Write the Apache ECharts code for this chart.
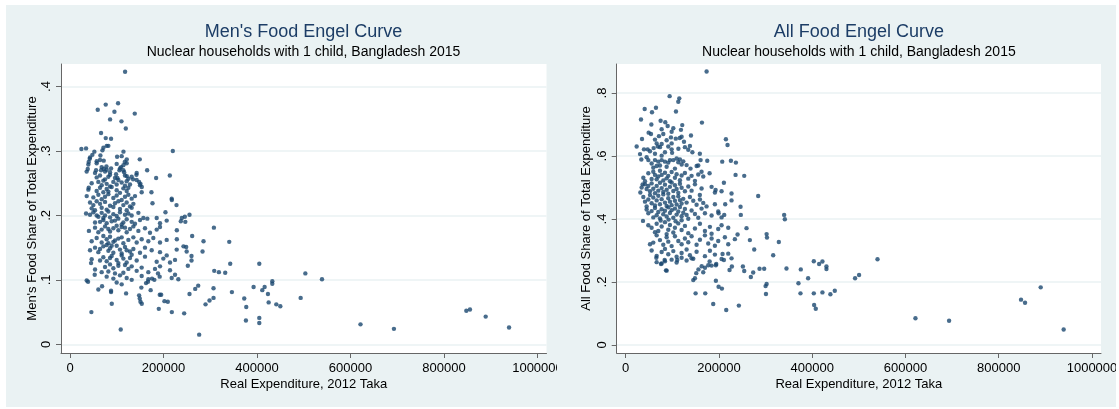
<!DOCTYPE html>
<html><head><meta charset="utf-8">
<script src="https://cdn.jsdelivr.net/npm/echarts@6/dist/echarts.min.js"></script>
<style>
html,body{margin:0;padding:0;background:#fff;width:1119px;height:409px;overflow:hidden}
#bg{position:absolute;left:6px;top:5px;width:1110px;height:402px;background:#eaf2f3}
#w1{position:absolute;left:6px;top:5px;width:551px;height:402px;overflow:hidden}
#w2{position:absolute;left:557px;top:5px;width:559px;height:402px;overflow:hidden}
#c1,#c2{position:absolute;left:0;top:0;width:620px;height:402px}
</style></head>
<body>
<div id="bg"></div>
<div id="w1"><div id="c1"></div></div>
<div id="w2"><div id="c2"></div></div>
<script>
const xTicks = [0, 200000, 400000, 600000, 800000, 1000000];
const menYTicks = [0, 0.1, 0.2, 0.3, 0.4];
const allYTicks = [0, 0.2, 0.4, 0.6, 0.8];
const titles = ["Men's Food Engel Curve", "All Food Engel Curve"];
const subtitle = "Nuclear households with 1 child, Bangladesh 2015";
const xName = "Real Expenditure, 2012 Taka";
const yNames = ["Men's Food Share of Total Expenditure", "All Food Share of Total Expenditure"];

// [real expenditure, men's food share]
const menFoodPoints = [
[117800,.423],[59300,.364],[76400,.372],[102800,.374],[95000,.361],[85700,.349],[110000,.346],[119300,.335],[138500,.358],[66400,.328],[76400,.320],[87800,.319],[78500,.308],[82000,.308],[71400,.305],[24300,.303],[34300,.304],[69300,.301],[114300,.299],[219900,.300],[52100,.299],[47800,.294],[65000,.293],[100700,.291],[42100,.288],[40000,.283],[57100,.284],[72100,.285],[117100,.283],[121400,.287],[149200,.287],[37900,.272],[72100,.272],[77900,.276],[87800,.273],[55700,.270],[66400,.270],[109300,.275],[105700,.270],[115700,.267],[165000,.270],[98500,.264],[101400,.258],[121400,.261],[142100,.263],[134900,.256],[213500,.262],[184200,.258],[147800,.252],[150700,.249],[153500,.244],[40000,.243],[174200,.236],[217800,.224],[227800,.216],[176400,.219],[35700,.230],[34300,.203],[204200,.205],[239200,.196],[245600,.198],[255600,.201],[237000,.191],[307800,.181],[285600,.160],[340600,.159],[283500,.144],[261300,.168],[228500,.177],[228500,.163],[242800,.152],[248500,.151],[259900,.137],[259900,.130],[252000,.122],[308500,.114],[318500,.112],[332000,.111],[342700,.125],[404900,.125],[503400,.110],[539000,.101],[432700,.098],[432700,.094],[411300,.084],[416300,.089],[392700,.089],[346300,.081],[307000,.087],[267800,.086],[274200,.091],[255600,.078],[307000,.072],[298400,.068],[289900,.062],[372700,.071],[377000,.058],[376300,.037],[404900,.041],[404900,.033],[423400,.078],[424900,.065],[441300,.062],[449900,.059],[493400,.072],[276300,.015],[244200,.048],[217800,.050],[189900,.055],[202000,.067],[209200,.066],[192000,.077],[195000,.077],[108500,.023],[45700,.050],[89300,.063],[87800,.081],[87800,.083],[68500,.090],[120000,.079],[147800,.076],[150700,.066],[153500,.063],[149200,.071],[35700,.099],[38600,.097],[45000,.126],[52800,.108],
[152600,.088],[162600,.095],[166800,.097],[172500,.084],[175400,.102],[180400,.100],[188200,.110],[191800,.105],
[621400,.031],[692900,.024],[847800,.052],[855600,.054],[889200,.043],[939200,.026],
[42800,.290],[110500,.292],
[39200,.279],[57000,.281],[64200,.286],[99800,.280],[114100,.278],[121200,.281],
[35600,.268],[53500,.266],[67700,.275],[74900,.268],[78400,.271],[85600,.267],[106900,.273],[114100,.270],[142600,.266],
[57000,.259],[64200,.262],[74900,.256],[82000,.260],[85600,.263],[96200,.258],[103400,.255],[117600,.262],[124800,.257],[131900,.260],[142600,.255],
[46300,.250],[60600,.252],[67700,.247],[71300,.254],[78400,.249],[85600,.245],[92700,.252],[99800,.248],[110500,.251],[117600,.246],[121200,.253],[128300,.248],[149700,.247],
[39200,.240],[57000,.238],[64200,.243],[71300,.236],[78400,.241],[82000,.237],[89100,.244],[99800,.239],[106900,.235],[114100,.242],[121200,.238],[124800,.243],[153300,.236],
[49900,.228],[60600,.232],[67700,.225],[74900,.229],[82000,.233],[92700,.227],[99800,.231],[110500,.224],[117600,.229],[124800,.232],[131900,.226],[139000,.230],[217500,.226],
[42800,.220],[49900,.216],[57000,.222],[64200,.218],[74900,.221],[85600,.215],[96200,.219],[103400,.222],[114100,.216],[121200,.220],[128300,.214],[135500,.218],
[46300,.211],[53500,.208],[67700,.212],[78400,.209],[92700,.213],[106900,.210],[121200,.208],[131900,.212],
[42800,.201],[49900,.205],[57000,.200],[67700,.204],[74900,.200],[82000,.206],[92700,.202],[99800,.199],[106900,.205],[117600,.201],[124800,.203],[131900,.200],[146200,.204],[85600,.197],[71300,.196],[60600,.198],
[64200,.190],[71300,.193],[78400,.188],[96200,.192],[103400,.195],[114100,.189],[121200,.194],[131900,.190],[149700,.193],[156900,.196],[165400,.195],[185400,.196],[192500,.188],[206800,.192],[246700,.190],[53500,.189],[89100,.191],[110500,.186],[139000,.187],
[40400,.176],[53500,.181],[67700,.178],[74900,.183],[85600,.175],[92700,.180],[103400,.177],[110500,.182],[121200,.174],[128300,.179],[135500,.183],[146200,.176],[160400,.180],[171100,.173],[185400,.178],[192500,.182],[60600,.174],[82000,.179],[99800,.184],[117600,.181],
[46300,.160],[57000,.165],[67700,.158],[78400,.163],[85600,.167],[92700,.159],[103400,.164],[114100,.157],[124800,.162],[135500,.166],[142600,.158],[153300,.163],[167500,.160],[178200,.165],[192500,.158],[206800,.162],[71300,.168],[96200,.161],[110500,.166],[82000,.157],
[42800,.146],[53500,.150],[60600,.143],[71300,.152],[82000,.145],[85600,.149],[92700,.142],[99800,.153],[106900,.147],[117600,.151],[128300,.144],[135500,.148],[149700,.142],[160400,.150],[174700,.146],[192500,.143],[228200,.147],[249500,.144],[64200,.148],[78400,.154],[110500,.141],[89100,.153],[121200,.146],
[46300,.132],[71300,.135],[78400,.129],[89100,.137],[99800,.131],[110500,.138],[121200,.127],[128300,.134],[131900,.139],[142600,.130],[160400,.136],[185400,.128],[199600,.133],[206800,.138],[213900,.127],[224600,.131],[85600,.134],[103400,.126],[114100,.133],[64200,.130],
[53500,.116],[74900,.120],[82000,.113],[92700,.118],[103400,.122],[114100,.111],[124800,.117],[131900,.121],[142600,.114],[153300,.119],[167500,.112],[181800,.117],[192500,.121],[213900,.115],[96200,.110],[117600,.123],[85600,.124],[67700,.112],
[78400,.105],[92700,.102],[106900,.107],[121200,.103],[131900,.100],[153300,.106],[167500,.101],[217500,.103],[224600,.108],[231700,.101],[99800,.096],[110500,.093],[60600,.085]
];

// [real expenditure, all food share]
const allFoodPoints = [
[173500,.868],[94200,.790],[114900,.783],[112800,.772],[40700,.749],[64900,.753],[56400,.739],[107800,.741],[32800,.716],[74900,.712],[84900,.707],[163500,.706],[121300,.698],[35000,.654],[23500,.630],[214900,.653],[218400,.635],[39200,.621],[47100,.621],[160600,.587],[174900,.585],[207000,.582],[225600,.585],[236300,.579],[33500,.589],[235600,.540],[254200,.537],[179900,.545],[152100,.568],[210600,.515],[284100,.473],[192800,.492],[31400,.484],[36400,.510],[339800,.413],[341300,.399],[246300,.439],[246900,.413],[227000,.459],[213400,.447],[199200,.418],[211300,.413],[37100,.394],[259100,.371],[239900,.351],[302200,.352],[303000,.341],[266300,.333],[275600,.303],[328400,.327],[316300,.285],[344800,.243],[287000,.242],[297000,.242],[268400,.216],[273400,.230],[251300,.249],[254200,.235],[227000,.275],[227700,.249],[207700,.289],[210600,.270],[222700,.238],[302200,.194],[300000,.187],[300800,.162],[242700,.125],[215600,.111],[187700,.130],[170600,.164],[206300,.179],[199200,.185],[193400,.204],[149900,.164],[144900,.206],[148500,.212],[151300,.228],[166300,.231],[194200,.257],[193400,.253],[370500,.196],[374800,.164],[375500,.240],[391200,.212],[403400,.266],[414800,.257],[421900,.265],[430500,.249],[430500,.241],[403400,.164],[421900,.167],[439000,.161],[448400,.172],[404100,.127],[407600,.115],[491900,.212],[500500,.222],[52100,.320],[65700,.277],[75700,.257],[86400,.237],[83500,.270],[110600,.270],[177000,.253],[184200,.252],
[540000,.272],[621400,.085],[693500,.077],[847800,.144],[856400,.134],[890000,.183],[939200,.049],
[55000,.700],[90000,.695],
[49200,.674],[54200,.670],[71300,.663],[77100,.685],[80600,.670],[98500,.677],[102100,.688],[97000,.659],[118500,.683],[119900,.661],[140000,.665],
[62800,.652],[66400,.640],[73500,.628],[69000,.630],[77100,.638],[87800,.650],[91300,.630],[98500,.640],[107400,.655],[116000,.657],[125000,.645],[127000,.628],[137700,.632],[143000,.612],
[30700,.606],[44900,.596],[62800,.607],[98500,.621],[99500,.610],[113000,.623],[134200,.620],[159000,.607],[84200,.612],[77100,.601],[52100,.615],[60000,.625],
[48500,.587],[62800,.587],[55600,.576],[59200,.563],[66400,.568],[69900,.582],[77100,.587],[84200,.582],[91300,.579],[94900,.587],[102100,.587],[109200,.592],[112800,.580],[116300,.589],[123500,.583],[130600,.571],[139000,.560],[155600,.570],[162700,.550],[73500,.570],[87800,.566],[105600,.560],[120000,.573],
[48500,.545],[37800,.531],[41400,.520],[59200,.550],[62800,.540],[69900,.535],[66400,.526],[73500,.553],[77100,.540],[84200,.547],[87800,.529],[91300,.537],[98500,.549],[105600,.531],[109200,.542],[116300,.523],[119900,.538],[127000,.546],[134200,.528],[141300,.537],[148500,.521],[155600,.541],[166300,.535],[94900,.520],[80600,.522],[55600,.527],
[34200,.500],[41400,.510],[44900,.495],[48500,.505],[52100,.488],[55600,.513],[59200,.496],[62800,.482],[66400,.505],[69900,.490],[73500,.515],[77100,.498],[80600,.486],[84200,.509],[87800,.493],[91300,.480],[94900,.502],[98500,.516],[102100,.489],[105600,.507],[109200,.495],[112800,.483],[116300,.512],[119900,.499],[127000,.488],[134200,.503],[141300,.490],[148500,.510],[162700,.497],[184200,.502],[191300,.484],[205600,.488],[227000,.481],
[37800,.470],[41400,.455],[44900,.440],[48500,.462],[52100,.476],[55600,.450],[59200,.468],[62800,.443],[66400,.459],[69900,.474],[73500,.447],[77100,.463],[80600,.478],[84200,.452],[87800,.441],[91300,.466],[94900,.455],[98500,.444],[102100,.470],[105600,.458],[109200,.446],[112800,.472],[116300,.460],[119900,.449],[123500,.464],[130600,.452],[137700,.470],[144900,.458],[152000,.445],[159200,.462],[166300,.451],[173400,.440],[191300,.447],[159000,.476],
[44900,.430],[48500,.418],[55600,.425],[59200,.405],[62800,.435],[66400,.412],[69900,.422],[73500,.402],[77100,.431],[80600,.415],[84200,.426],[87800,.408],[91300,.437],[94900,.419],[98500,.428],[102100,.404],[105600,.433],[109200,.414],[112800,.424],[116300,.438],[119900,.409],[123500,.420],[127000,.432],[130600,.413],[134200,.401],[141300,.427],[148500,.416],[155600,.404],[162700,.433],[169900,.418],[184200,.411],[198400,.424],[205600,.405],[75000,.395],[92000,.398],[107000,.393],[120000,.396],
[48500,.380],[55600,.372],[66400,.385],[69900,.362],[77100,.376],[84200,.390],[91300,.366],[94900,.381],[102100,.357],[105600,.372],[112800,.386],[119900,.365],[127000,.378],[134200,.355],[148500,.370],[159200,.385],[169900,.362],[180600,.375],[184200,.353],[198400,.368],[205600,.380],[219900,.372],[87800,.352],[62800,.358],
[59200,.325],[66400,.348],[73500,.333],[80600,.318],[87800,.342],[91300,.328],[98500,.314],[105600,.345],[112800,.330],[119900,.320],[127000,.338],[134200,.326],[141300,.345],[152000,.318],[159200,.334],[169900,.348],[177000,.322],[184200,.338],[191300,.315],[198400,.330],[212700,.342],[219900,.320],[234100,.336],
[55600,.300],[66400,.283],[77100,.295],[84200,.305],[91300,.288],[102100,.298],[109200,.280],[119900,.292],[130600,.303],[137700,.285],[144900,.274],[152000,.296],[169900,.282],[180600,.299],[191300,.287],[205600,.273],[219900,.290],
[66400,.263],[77100,.259],[84200,.266],[87800,.236],[98500,.271],[109200,.262],[119900,.277],[130600,.268],[141300,.275],[163000,.250],[156000,.240],[180000,.265],[170000,.245]
];

const FONT = '"Liberation Sans", Arial, Helvetica, sans-serif';
const NAVY = '#1a476f';

function fmtY(v) { return v === 0 ? '0' : String(v).replace(/^0/, ''); }

function makeOption(idx, points, yTicks, yMin, yMax, gridLeft, gridWidth, titleX, nameGap) {
  return {
    animation: false,
    backgroundColor: 'transparent',
    textStyle: { fontFamily: FONT },
    graphic: [
      { type: 'text', x: titleX, y: 27, style: { text: titles[idx], fontSize: 18, fontFamily: FONT, fill: '#1c3d66', align: 'center', verticalAlign: 'middle' } },
      { type: 'text', x: titleX, y: 47, style: { text: subtitle, fontSize: 14, fontFamily: FONT, fill: '#000', align: 'center', verticalAlign: 'middle' } }
    ],
    grid: { left: gridLeft, top: 59, width: gridWidth, height: 289, show: true, backgroundColor: '#fff', borderWidth: 0 },
    xAxis: {
      type: 'value', min: -19300, max: 1019300,
      name: xName, nameLocation: 'middle', nameGap: 25, nameMoveOverlap: false,
      nameTextStyle: { fontSize: 13, color: '#000', fontFamily: FONT },
      axisLine: { show: true, onZero: false, lineStyle: { color: '#666', width: 1 } },
      axisTick: { show: true, customValues: xTicks, length: 5, lineStyle: { color: '#666' } },
      axisLabel: { customValues: xTicks, fontSize: 13, color: '#000', margin: 9, fontFamily: FONT, formatter: v => String(v) },
      splitLine: { show: false }
    },
    yAxis: {
      type: 'value', min: yMin, max: yMax,
      name: yNames[idx], nameLocation: 'middle', nameGap: nameGap, nameMoveOverlap: false,
      nameTextStyle: { fontSize: 13, color: '#000', fontFamily: FONT },
      axisLine: { show: true, onZero: false, lineStyle: { color: '#666', width: 1 } },
      axisTick: { show: true, customValues: yTicks, length: 5, lineStyle: { color: '#666' } },
      axisLabel: { customValues: yTicks, rotate: 90, fontSize: 13, color: '#000', margin: 8, fontFamily: FONT, formatter: fmtY },
      splitLine: { show: true, lineStyle: { color: '#eaf2f3', width: 1.5 } }
    },
    series: [{
      type: 'scatter', data: points, symbol: 'circle', symbolSize: 4.4,
      itemStyle: { color: NAVY }, silent: true
    }]
  };
}

const c1 = echarts.init(document.getElementById('c1'), null, { renderer: 'canvas' });
c1.setOption(makeOption(0, menFoodPoints, menYTicks, -0.0135, 0.435, 55, 485.5, 297.5, 22));
const c2 = echarts.init(document.getElementById('c2'), null, { renderer: 'canvas' });
c2.setOption(makeOption(1, allFoodPoints, allYTicks, -0.0254, 0.892, 59.7, 484.3, 301.9, 24));
</script>
</body></html>
